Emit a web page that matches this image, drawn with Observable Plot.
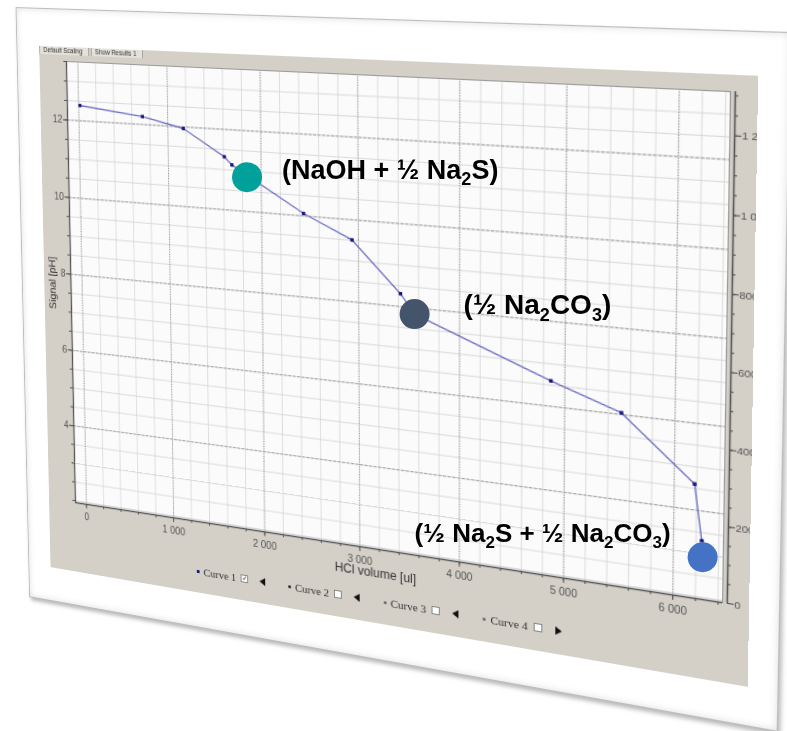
<!DOCTYPE html>
<html><head><meta charset="utf-8">
<script src="https://cdn.jsdelivr.net/npm/d3@7"></script>
<script src="https://cdn.jsdelivr.net/npm/@observablehq/plot@0.6"></script>
<style>
html,body{margin:0;padding:0;background:#fff;width:787px;height:731px;overflow:hidden;}
#page{position:relative;width:787px;height:731px;overflow:hidden;background:#fff;}
#flat{position:absolute;left:0;top:0;width:900px;height:820px;transform-origin:0 0;}
.card{position:absolute;background:#fff;border:1px solid #bdbdbd;box-sizing:border-box;
  box-shadow:2px 3px 4px rgba(0,0,0,0.28), inset 0 0 7px rgba(0,0,0,0.13);}
.panel{position:absolute;background:#d4d0c8;overflow:hidden;}
.plotbox{position:absolute;}
.plotbox svg{position:absolute;left:0;top:0;overflow:visible;}
.tabs{position:absolute;display:flex;font:6.5px "Liberation Sans",Arial,sans-serif;color:#333;}
.tabs span{display:inline-block;padding:1px 6px 1px 4px;border:1px solid #a8a59e;border-bottom:none;background:#e4e1da;margin-right:2px;}
.legend .li{position:absolute;display:flex;align-items:center;font:11px "Liberation Serif","Times New Roman",serif;color:#333;white-space:nowrap;}
.mk{display:inline-block;width:3px;height:3px;margin-right:4px;}
.cb{display:inline-block;width:8px;height:8px;background:#fff;border:1px solid #888;box-sizing:border-box;margin-left:5px;font:7px "DejaVu Sans",sans-serif;line-height:7px;text-align:center;color:#222;}
.tri{display:inline-block;width:0;height:0;border-top:4px solid transparent;border-bottom:4px solid transparent;margin-left:12px;}
.tri.l{border-right:6px solid #111;}
.tri.r{border-left:6px solid #111;}
#overlay{position:absolute;left:0;top:0;}
</style></head>
<body><div id="page"><div id="flat"></div><div id="overlay"></div></div>
<script>
// ---------------- data ----------------
const volume = [15, 720, 1170, 1610, 1690, 2440, 2935, 3420, 3560, 4870, 5520, 6180, 6250];
const signalPh = [12.39, 12.2, 11.96, 11.32, 11.13, 10.06, 9.51, 8.31, 7.85, 6.6, 6.04, 4.6, 3.31];
const eqLabels = ["(NaOH + ½ Na₂S)", "(½ Na₂CO₃)", "(½ Na₂S + ½ Na₂CO₃)"];
const eqVolume = [1850, 3560, 6260];
const eqPh = [10.85, 7.85, 2.93];
const eqColors = ["#00a19a", "#44546a", "#4472c4"];
const xTicks = [0, 1000, 2000, 3000, 4000, 5000, 6000];
const yTicks = [4, 6, 8, 10, 12];
const mvTicks = [0, 200, 400, 600, 800, 1000, 1200];
const legendNames = ["Curve 1", "Curve 2", "Curve 3", "Curve 4"];
const tabNames = ["Default Scaling", "Show Results 1"];
const xTitle = "HCl volume [ul]";
const yTitle = "Signal [pH]";

// ---------------- perspective helpers ----------------
function solve(A, b) {
  const n = b.length, M = A.map((r, i) => [...r, b[i]]);
  for (let c = 0; c < n; c++) {
    let p = c;
    for (let r = c + 1; r < n; r++) if (Math.abs(M[r][c]) > Math.abs(M[p][c])) p = r;
    [M[c], M[p]] = [M[p], M[c]];
    for (let r = 0; r < n; r++) {
      if (r === c) continue;
      const f = M[r][c] / M[c][c];
      for (let k = c; k <= n; k++) M[r][k] -= f * M[c][k];
    }
  }
  return M.map((r, i) => r[n] / r[i]);
}
function homography(src, dst) {
  const A = [], b = [];
  for (let i = 0; i < 4; i++) {
    const [x, y] = src[i], [X, Y] = dst[i];
    A.push([x, y, 1, 0, 0, 0, -X * x, -X * y]); b.push(X);
    A.push([0, 0, 0, x, y, 1, -Y * x, -Y * y]); b.push(Y);
  }
  const h = solve(A, b); h.push(1); return h;
}
const proj = (h, [x, y]) => { const w = h[6] * x + h[7] * y + 1; return [(h[0] * x + h[1] * y + h[2]) / w, (h[3] * x + h[4] * y + h[5]) / w]; };

// flat frame of the plot area and where it appears on screen
const FL = 100, FT = 100, FW = 640, FH = 450;
const flatCorners = [[FL, FT], [FL + FW, FT], [FL + FW, FT + FH], [FL, FT + FH]];
const screenCorners = [[66, 61], [730, 91], [722, 602], [75, 502]];
const H = homography(flatCorners, screenCorners);
const Hi = homography(screenCorners, flatCorners);
const flatEl = document.getElementById("flat");
flatEl.style.transform = `matrix3d(${H[0]},${H[3]},0,${H[6]},${H[1]},${H[4]},0,${H[7]},0,0,1,0,${H[2]},${H[5]},0,1)`;

function rectFromQuad(q) {
  const [tl, tr, br, bl] = q.map(p => proj(Hi, p));
  const left = (tl[0] + bl[0]) / 2, right = (tr[0] + br[0]) / 2;
  const top = (tl[1] + tr[1]) / 2, bottom = (bl[1] + br[1]) / 2;
  return {left, top, width: right - left, height: bottom - top};
}
const cardR = rectFromQuad([[17, 7], [790, 33], [778, 732], [28, 597]]);
const panelR = rectFromQuad([[40, 45], [760, 77], [746, 687], [50, 567]]);

const card = document.createElement("div");
card.className = "card";
Object.assign(card.style, {left: cardR.left + "px", top: cardR.top + "px", width: cardR.width + "px", height: cardR.height + "px"});
flatEl.appendChild(card);
const panel = document.createElement("div");
panel.className = "panel";
Object.assign(panel.style, {left: panelR.left + "px", top: panelR.top + "px", width: panelR.width + "px", height: panelR.height + "px"});
flatEl.appendChild(panel);

// ---------------- chart ----------------
const mL = 50, mR = 60, mT = 14, mB = 80;
const X0 = -130, X1 = 6440, Y0 = 1.95, Y1 = 13.5, MV1 = 1310;
const pxX = (X1 - X0) / FW, pxY = (Y1 - Y0) / FH;   // data units per flat pixel
const fmt = v => d3.format(",")(v).replace(/,/g, " ");
const rows = volume.map((v, i) => ({v, p: signalPh[i]}));
const font = "'Liberation Sans', Arial, sans-serif";
const xMinor = d3.range(0, 6401, 200), yMinor = d3.range(2, 13.51, 0.5);

const plot = Plot.plot({
  width: FW + mL + mR, height: FH + mT + mB,
  marginLeft: mL, marginRight: mR, marginTop: mT, marginBottom: mB,
  style: {background: "transparent", fontFamily: font, fontSize: "10px", color: "#444", overflow: "visible"},
  x: {domain: [X0, X1]},
  y: {domain: [Y0, Y1]},
  marks: [
    Plot.frame({fill: "#fbfbfb", stroke: null}),
    Plot.gridX(xMinor, {stroke: "#d6d6d6", strokeOpacity: 1, strokeWidth: 0.8}),
    Plot.gridY(yMinor, {stroke: "#d2d2d2", strokeOpacity: 1, strokeWidth: 0.8}),
    Plot.gridX(xTicks, {stroke: "#8a8a8a", strokeOpacity: 1, strokeWidth: 0.9, strokeDasharray: "1,1.5"}),
    Plot.gridY(yTicks, {stroke: "#9a9a9a", strokeOpacity: 1, strokeWidth: 0.9, strokeDasharray: "3,1.5"}),
    Plot.frame({stroke: "#9a9a9a", strokeWidth: 1}),
    Plot.ruleX([X0], {stroke: "#555", strokeWidth: 1.4}),
    Plot.ruleY([Y0], {stroke: "#555", strokeWidth: 1.4}),
    // minor ticks (no labels)
    Plot.ruleX(xMinor, {x: d => d, y1: Y0, y2: Y0 - 3 * pxY, stroke: "#555"}),
    Plot.ruleY(yMinor, {y: d => d, x1: X0, x2: X0 - 3 * pxX, stroke: "#555"}),
    Plot.axisX(xTicks, {tickSize: 5, tickPadding: 4, tickFormat: fmt, label: null, stroke: "#555", fill: "#555"}),
    Plot.axisY(yTicks, {tickSize: 5, tickPadding: 1, tickFormat: d => d, label: null, stroke: "#555", fill: "#555"}),
    Plot.text([xTitle], {text: d => d, frameAnchor: "bottom", dy: 27, fontSize: 12, fill: "#333"}),
    Plot.text([yTitle], {text: d => d, frameAnchor: "left", textAnchor: "middle", rotate: -90, dx: -21, fontSize: 11, fill: "#333"}),
    Plot.line(rows, {x: "v", y: "p", stroke: "#6f6fc4", strokeWidth: 1.3}),
    Plot.dot(rows, {x: "v", y: "p", symbol: "square", r: 1.9, fill: "#16167e", stroke: null})
  ]
});

// right axis (mV) drawn by a second plot with the same frame, shifted 4px right
const shift = 4;
const mvMinor = d3.range(0, 1301, 50);
const plotR = Plot.plot({
  width: FW + mL + mR, height: FH + mT + mB,
  marginLeft: mL + shift, marginRight: mR - shift, marginTop: mT, marginBottom: mB,
  style: {background: "transparent", fontFamily: font, fontSize: "9.5px", color: "#555", overflow: "visible"},
  x: {domain: [0, 1], axis: null},
  y: {domain: [0, MV1]},
  marks: [
    Plot.ruleX([1], {stroke: "#555", strokeWidth: 1.4}),
    Plot.ruleY(mvMinor, {y: d => d, x1: 1, x2: 1 + 3 / FW, stroke: "#555"}),
    Plot.axisY(mvTicks, {anchor: "right", tickSize: 5, tickPadding: 1, tickFormat: fmt, label: null, stroke: "#555", fill: "#555"})
  ]
});

const box = document.createElement("div");
box.className = "plotbox";
Object.assign(box.style, {left: (FL - mL - panelR.left) + "px", top: (FT - mT - panelR.top) + "px", width: (FW + mL + mR) + "px", height: (FH + mT + mB) + "px"});
box.appendChild(plot);
box.appendChild(plotR);
panel.appendChild(box);

// tabs
const tabPos = proj(Hi, [39, 44]);
const tabs = document.createElement("div");
tabs.className = "tabs";
Object.assign(tabs.style, {left: (tabPos[0] - panelR.left) + "px", top: (tabPos[1] - panelR.top) + "px"});
tabNames.forEach(n => { const s = document.createElement("span"); s.textContent = n; tabs.appendChild(s); });
panel.appendChild(tabs);

// legend row
const lg0 = proj(Hi, [197, 571]), lg3 = proj(Hi, [483, 621]);
const step = (lg3[0] - lg0[0]) / 3;
const legend = document.createElement("div");
legend.className = "legend";
const mkColors = ["#16167e", "#222", "#666", "#666"];
legendNames.forEach((n, i) => {
  const li = document.createElement("div");
  li.className = "li";
  Object.assign(li.style, {left: (lg0[0] + i * step - panelR.left) + "px", top: (lg0[1] - 6 - panelR.top) + "px"});
  li.innerHTML = `<span class="mk" style="background:${mkColors[i]};${i ? "border-radius:50%" : ""}"></span>` +
    `<span>${n}</span><span class="cb">${i === 0 ? "✓" : ""}</span>` +
    `<span class="tri ${i === 3 ? "r" : "l"}"></span>`;
  legend.appendChild(li);
});
panel.appendChild(legend);

// ---------------- flat annotations over the photographed chart ----------------
const xs = plot.scale("x"), ys = plot.scale("y");
const labelOffsets = [[35, -7], [49, -9], [-32, -24]];
const labelSizes = [27, 28, 26];
const eqRows = eqVolume.map((v, i) => {
  const [sx, sy] = proj(H, [FL - mL + xs.apply(v), FT - mT + ys.apply(eqPh[i])]);
  return {sx, sy, tx: sx + labelOffsets[i][0], ty: sy + labelOffsets[i][1], label: eqLabels[i], color: eqColors[i], i};
});
const overlay = Plot.plot({
  width: 787, height: 731, margin: 0,
  style: {background: "transparent", overflow: "visible"},
  x: {type: "identity"}, y: {type: "identity"}, color: {type: "identity"},
  marks: [
    Plot.dot(eqRows, {x: "sx", y: "sy", r: 15, fill: "color", stroke: null}),
    ...eqRows.map(d => Plot.text([d], {x: "tx", y: "ty", text: "label", textAnchor: d.i === 2 ? "end" : "start",
      fontSize: labelSizes[d.i], fontWeight: "bold", fontFamily: font, fill: "#000"}))
  ]
});
overlay.querySelectorAll("text").forEach(t => {
  const s = t.textContent;
  if (!/[₂₃]/.test(s)) return;
  const fs = parseFloat(t.closest("[font-size]").getAttribute("font-size")) || 26;
  const sub = Math.round(fs * 0.65), sh = Math.round(fs * 0.24);
  t.textContent = "";
  let down = false;
  for (const part of s.split(/([₂₃])/)) {
    if (!part) continue;
    const ts = document.createElementNS("http://www.w3.org/2000/svg", "tspan");
    if (part === "₂" || part === "₃") {
      ts.textContent = part === "₂" ? "2" : "3";
      ts.setAttribute("font-size", sub);
      ts.setAttribute("dy", sh);
      down = true;
    } else {
      ts.textContent = part;
      if (down) { ts.setAttribute("dy", -sh); down = false; }
    }
    t.appendChild(ts);
  }
});
document.getElementById("overlay").appendChild(overlay);
</script>
</body></html>
